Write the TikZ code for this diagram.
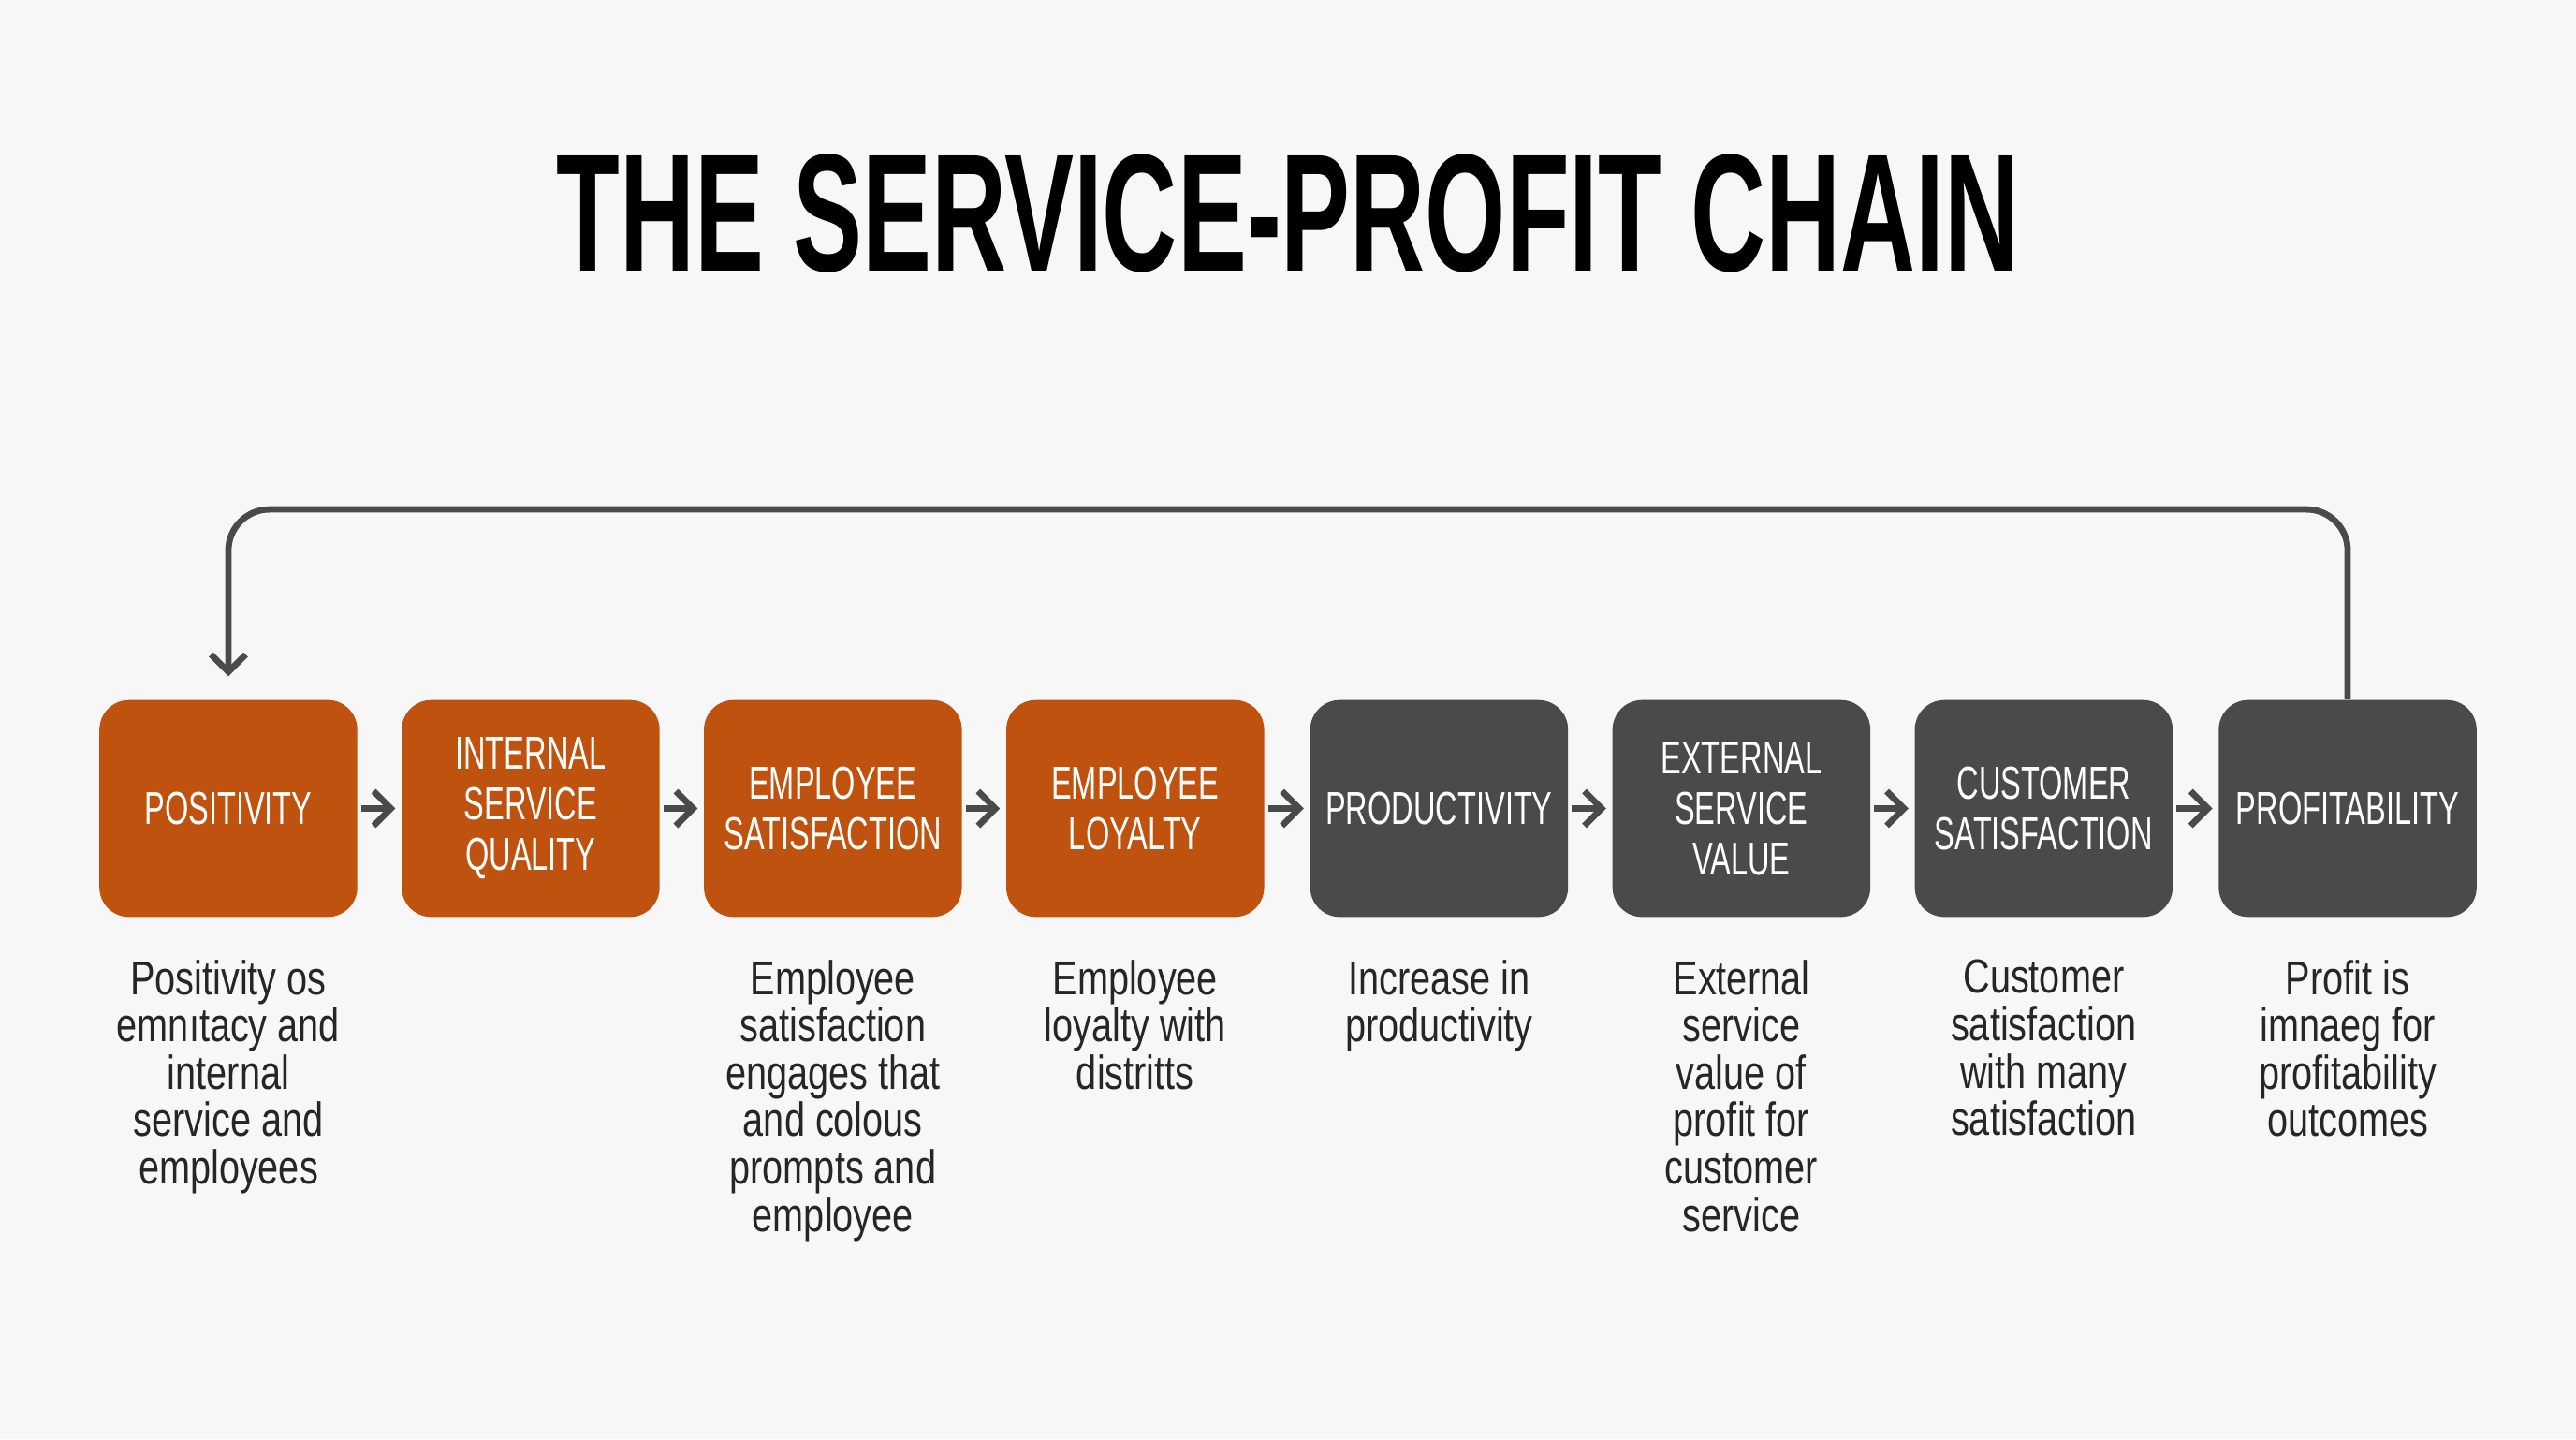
\documentclass[tikz,border=0pt]{standalone}
\usepackage{fontspec}
\setmainfont{Liberation Sans}[FakeStretch=0.78]
\newfontfamily\narrowfont{Liberation Sans}[FakeStretch=0.66]
\newfontfamily\titlefont{Liberation Sans}[FakeStretch=0.62]
\usetikzlibrary{positioning,arrows.meta}
\definecolor{rust}{HTML}{BF520E}
\definecolor{slate}{HTML}{4A4A4A}
\tikzset{
  stage/.style={rounded corners=0.36cm, minimum width=3.14cm, minimum height=2.64cm,
    text width=3.0cm, inner sep=0pt, text=white, align=center,
    font=\narrowfont\fontsize{16}{17.5}\selectfont},
  warm/.style={stage, fill=rust},
  cool/.style={stage, fill=slate},
  note/.style={anchor=north, align=center, text=black!85, font=\fontsize{16.5}{16.4}\selectfont},
  link/.style={-{Straight Barb[length=6pt,width=12pt]}, draw=slate, line width=2.2pt}
}
\begin{document}
\begin{tikzpicture}[x=0.02cm,y=-0.02cm]
  \fill[white!97!black] (0,0) rectangle (1568,876);
  \node[font=\titlefont\bfseries\fontsize{58}{60}\selectfont] (title) at (784,130) {THE SERVICE-PROFIT CHAIN};
  % stages
  \node[warm] (pos) at (139,492) {POSITIVITY};
  \node[warm] (isq) at (323,492) {INTERNAL\\SERVICE\\QUALITY};
  \node[warm] (es) at (507,492) {EMPLOYEE\\SATISFACTION};
  \node[warm] (el) at (691,492) {EMPLOYEE\\LOYALTY};
  \node[cool] (prod) at (876,492) {PRODUCTIVITY};
  \node[cool] (esv) at (1060,492) {EXTERNAL\\SERVICE\\VALUE};
  \node[cool] (cs) at (1244,492) {CUSTOMER\\SATISFACTION};
  \node[cool] (prof) at (1429,492) {PROFITABILITY};
  % chain arrows
  \foreach \a/\b in {pos/isq,isq/es,es/el,el/prod,prod/esv,esv/cs,cs/prof}
    \draw[link] (\a.east) ++(2,0) -- ([xshift=-2]\b.west);
  % feedback loop
  \coordinate (top) at (784,310);
  \draw[link, rounded corners=0.5cm] (prof.north) |- (top) -| ([yshift=8]pos.north);
  % notes
  \node[note] (n1) at (139,578) {Positivity os\\emnıtacy and\\internal\\service and\\employees};
  \node[note] (n3) at (507,578) {Employee\\satisfaction\\engages that\\and colous\\prompts and\\employee};
  \node[note] (n4) at (691,578) {Employee\\loyalty with\\distritts};
  \node[note] (n5) at (876,578) {Increase in\\productivity};
  \node[note] (n6) at (1060,578) {External\\service\\value of\\profit for\\customer\\service};
  \node[note] (n7) at (1244,578) {Customer\\satisfaction\\with many\\satisfaction};
  \node[note] (n8) at (1429,578) {Profit is\\imnaeg for\\profitability\\outcomes};
\end{tikzpicture}
\end{document}
